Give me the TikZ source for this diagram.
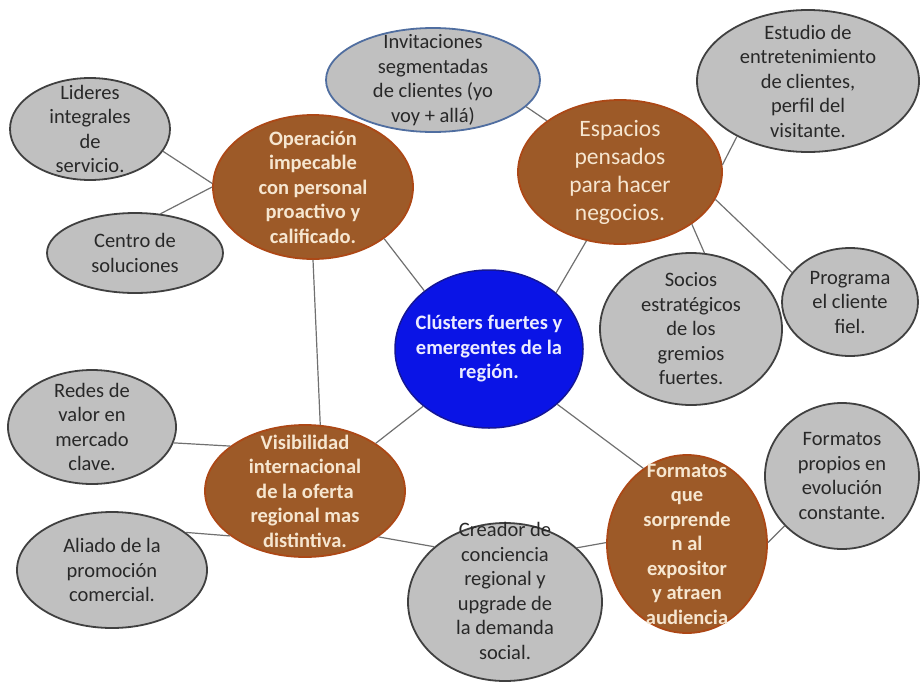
\documentclass[tikz,border=0pt]{standalone}
\usepackage{fontspec}
\setmainfont{Carlito}
\usetikzlibrary{shapes.geometric}

\definecolor{grisfondo}{RGB}{192,192,192}
\definecolor{grisborde}{RGB}{64,64,64}
\definecolor{grisletra}{RGB}{40,40,40}
\definecolor{cafefondo}{RGB}{157,90,40}
\definecolor{cafeborde}{RGB}{172,72,22}
\definecolor{cafeletra}{RGB}{246,230,208}
\definecolor{azulfondo}{RGB}{10,20,230}
\definecolor{azulborde}{RGB}{20,22,150}
\definecolor{invborde}{RGB}{80,110,160}
\definecolor{linea}{RGB}{112,112,112}

\begin{document}
\begin{tikzpicture}[x=1pt, y=-1pt,
    every node/.style={ellipse, inner sep=-30pt, align=center, font=\fontsize{20.5}{24.5}\selectfont},
    gris/.style={fill=grisfondo, draw=grisborde, line width=1.8pt, text=grisletra},
    cafe/.style={fill=cafefondo, draw=cafeborde, line width=1.8pt, text=cafeletra, font=\fontsize{20.5}{24.5}\selectfont\bfseries},
    azul/.style={fill=azulfondo, draw=azulborde, line width=1.5pt, text=white!92!blue, font=\fontsize{20.5}{24.5}\selectfont\bfseries},
    enlace/.style={draw=linea, line width=1.2pt}]
    \useasboundingbox (0,0) rectangle (920,683);

    % 1. nodo central
    \node[azul, minimum width=188, minimum height=158] (clu) at (489,349) {Clústers fuertes y\\emergentes de la\\región.};

    % 2. ejes (cafe)
    \node[cafe, minimum width=200, minimum height=144] (ope) at (313,187) {Operación\\impecable\\con personal\\proactivo y\\calificado.};
    \node[cafe, minimum width=204, minimum height=144, font=\fontsize{23.5}{28}\selectfont] (esp) at (620,172) {Espacios\\pensados\\para hacer\\negocios.};
    \node[cafe, minimum width=200, minimum height=132] (vis) at (305,491) {Visibilidad\\internacional\\de la  oferta\\regional mas\\distintiva.};
    \node[cafe, minimum width=160, minimum height=178] (frm) at (687,544) {Formatos\\que\\sorprende\\n al\\expositor\\y atraen\\audiencia};

    % 3. ideas (gris)
    \node[gris, minimum width=160, minimum height=102] (lid) at (90,129) {Lideres\\integrales\\de\\servicio.};
    \node[gris, minimum width=176, minimum height=80] (cen) at (135,253) {Centro de\\soluciones};
    \node[gris, draw=invborde, minimum width=214, minimum height=104] (inv) at (433,80) {Invitaciones\\segmentadas\\de clientes (yo\\voy + allá)};
    \node[gris, minimum width=222, minimum height=142] (est) at (808,81) {Estudio de\\entretenimiento\\de clientes,\\perfil del\\visitante.};
    \node[gris, minimum width=182, minimum height=152] (soc) at (691,329) {Socios\\estratégicos\\de los\\gremios\\fuertes.};
    \node[gris, minimum width=136, minimum height=108] (pro) at (850,302) {Programa\\el cliente\\fiel.};
    \node[gris, minimum width=168, minimum height=114] (red) at (92,427) {Redes de\\valor en\\mercado\\clave.};
    \node[gris, minimum width=190, minimum height=116] (ali) at (112,570) {Aliado de la\\promoción\\comercial.};
    \node[gris, minimum width=194, minimum height=158, text depth=22pt] (cre) at (505,602) {Creador de\\conciencia\\regional y\\upgrade de\\la demanda\\social.};
    \node[gris, minimum width=154, minimum height=146] (fpr) at (842,476) {Formatos\\propios en\\evolución\\constante.};

    % 4. enlaces
    \draw[enlace] (lid.-17) -- (ope.178);
    \draw[enlace] (cen.57) -- (ope.180);
    \draw[enlace] (ope.-36) -- (clu.138);
    \draw[enlace] (ope.-90) -- (vis.77);
    \draw[enlace] (inv.-16) -- (esp.145);
    \draw[enlace] (esp.-116) -- (clu.40);
    \draw[enlace] (esp.4) -- (est.-142);
    \draw[enlace] (esp.-36) -- (soc.80);
    \draw[enlace] (esp.-16) -- (pro.153);
    \draw[enlace] (clu.-139) -- (vis.34);
    \draw[enlace] (clu.-39) -- (frm.120);
    \draw[enlace] (red.-11) -- (vis.149);
    \draw[enlace] (ali.27) -- (vis.-149);
    \draw[enlace] (vis.-32) -- (cre.142);
    \draw[enlace] (cre.37) -- (frm.179);
    \draw[enlace] (frm.1) -- (fpr.-139);
\end{tikzpicture}
\end{document}
